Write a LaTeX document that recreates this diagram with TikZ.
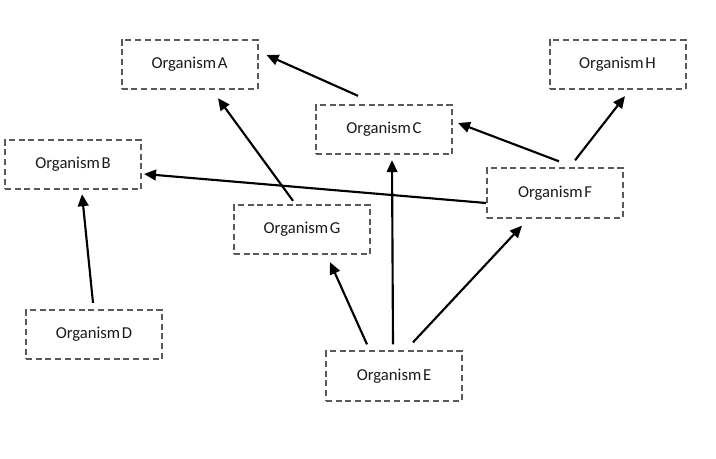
\documentclass[tikz,border=0pt]{standalone}
\usepackage{fontspec}
\setmainfont{Carlito}[WordSpace=0.45]
\usetikzlibrary{arrows.meta,calc}
\definecolor{boxline}{HTML}{595959}
\definecolor{labeltext}{HTML}{1A1A1A}

\tikzset{
  orgbox/.style={draw=boxline,line width=1.5pt,dash pattern=on 4.5pt off 2.8pt,
    minimum width=102pt,minimum height=37pt,inner sep=0pt,
    font=\fontsize{12.5}{14}\selectfont,text=labeltext},
  link/.style={black,line width=1.6pt,-{Triangle[length=9pt,width=8pt]}}
}

\begin{document}
\begin{tikzpicture}[x=0.75pt,y=-0.75pt]
  \useasboundingbox (0,0) rectangle (716,459);
  % organisms
  \node[orgbox] (A) at (189.5,64.5) {Organism A};
  \node[orgbox] (H) at (617.5,64.5) {Organism H};
  \node[orgbox] (C) at (384,129.5) {Organism C};
  \node[orgbox] (B) at (73,164.5) {Organism B};
  \node[orgbox] (F) at (555,193) {Organism F};
  \node[orgbox] (G) at (302,229.5) {Organism G};
  \node[orgbox] (D) at (94,334.5) {Organism D};
  \node[orgbox] (E) at (394,376) {Organism E};
  % links
  \draw[link] ($(C.north)+(-26,-8)$) -- ($(A.east)+(8,-9.5)$);
  \draw[link] ($(G.north)+(-9,-3)$) -- ($(A.south)+(28.5,8)$);
  \draw[link] ($(F.west)+(0,10)$) -- ($(B.east)+(2,9.5)$);
  \draw[link] ($(D.north)+(-1,-6)$) -- ($(B.south)+(9,4)$);
  \draw[link] ($(E.north)+(-27,-6)$) -- ($(G.south)+(28,7)$);
  \draw[link] ($(E.north)+(-1,-6)$) -- ($(C.south)+(8,5)$);
  \draw[link] ($(E.north)+(19,-8)$) -- ($(F.south)+(-33,7)$);
  \draw[link] ($(F.north)+(4,-6)$) -- ($(C.east)+(5,-6.5)$);
  \draw[link] ($(F.north)+(20,-7)$) -- ($(H.south)+(7.5,6)$);
\end{tikzpicture}
\end{document}
